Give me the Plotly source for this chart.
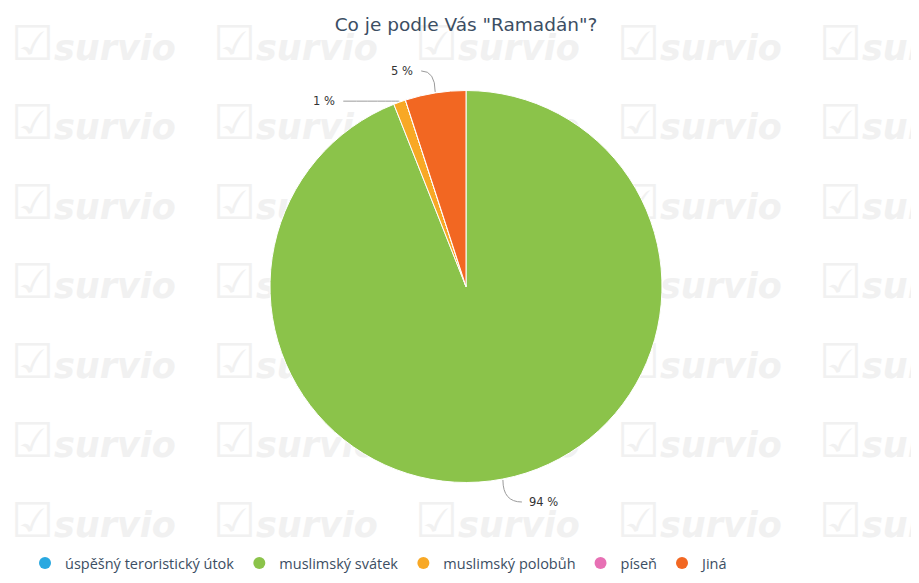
import math
import plotly.graph_objects as go

# ---- data ----
categories = ["úspěšný teroristický útok", "muslimský svátek", "muslimský polobůh", "píseň", "Jiná"]
values = [0, 94, 1, 0, 5]
colors = ["#29a8e0", "#8bc34a", "#f8a825", "#e770b4", "#f26722"]
title_text = 'Co je podle Vás "Ramadán"?'

# ---- layout geometry (pixels) ----
W, H = 919, 583
OFF = 8  # page body margin compensation
CX, CY, R = 466 - OFF, 286.5 - OFF, 196
# label text offsets from slice edge point (style only)
label_offsets = {1: (24, 22), 2: (-62, 0), 4: (-20, -21)}

fig = go.Figure()

# watermark (decoration) drawn beneath the pie on hidden axes
wm_x, wm_y, wm_t = [], [], []
for r in range(7):
    for c in range(5):
        wm_x.append(3 + c * 202)
        wm_y.append(43 + r * 79.5)
        wm_t.append("<span style='font-size:48px'>☑</span><b><i>survio</i></b>")
fig.add_trace(go.Scatter(
    x=wm_x, y=wm_y, text=wm_t, mode="text", textposition="middle right",
    textfont=dict(family="DejaVu Sans", size=35, color="#f1f1f1"),
    hoverinfo="skip", showlegend=False))

# pie
fig.add_trace(go.Pie(
    labels=categories, values=values, sort=False, direction="clockwise",
    rotation=0, marker=dict(colors=colors, line=dict(color="#ffffff", width=1)),
    textinfo="none", showlegend=False,
    domain=dict(x=[(CX - R) / W, (CX + R) / W], y=[1 - (CY + R) / H, 1 - (CY - R) / H]),
))

# legend entries with circle markers
for cat, col in zip(categories, colors):
    fig.add_trace(go.Scatter(x=[None], y=[None], mode="markers", name=cat,
                             marker=dict(color=col, size=12, symbol="circle")))

# outside labels with leader lines, computed from data
total = sum(values)
cum = 0
shapes, annotations = [], []
for i, v in enumerate(values):
    if v > 0:
        a = math.radians((cum + v / 2) / total * 360)
        ex = CX + (R + 1) * math.sin(a)
        ey = CY - (R + 1) * math.cos(a)
        dx, dy = label_offsets[i]
        tx, ty = ex + dx, ey + dy
        right = dx > 0
        sx = tx - 5 if right else tx + 6
        path = f"M {sx},{ty} Q {ex},{ty} {ex},{ey}"
        shapes.append(dict(type="path", path=path, xref="x", yref="y",
                           line=dict(color="#9a9a9a", width=1)))
        annotations.append(dict(x=tx, y=ty, xref="x", yref="y", text=f"{v} %",
                                showarrow=False, xanchor="left" if right else "right",
                                yanchor="middle",
                                font=dict(family="DejaVu Sans", size=11.5, color="#333333")))
    cum += v

fig.update_layout(
    width=W, height=H,
    margin=dict(l=0, r=0, t=0, b=0),
    paper_bgcolor="#ffffff", plot_bgcolor="rgba(0,0,0,0)",
    xaxis=dict(range=[0, W], visible=False, fixedrange=True),
    yaxis=dict(range=[H, 0], visible=False, fixedrange=True),
    title=dict(text=title_text, x=(466 - OFF) / W, xanchor="center", y=1 - (25 - OFF) / H,
               yanchor="middle", yref="container",
               font=dict(family="DejaVu Sans", size=18.5, color="#3c4e63")),
    legend=dict(orientation="h", x=17 / W, xanchor="left", y=1 - (563 - OFF) / H, yanchor="middle",
                font=dict(family="Open Sans", size=14.5, color="#3c4e63"),
                bgcolor="rgba(0,0,0,0)", itemclick=False, itemdoubleclick=False),
    shapes=shapes, annotations=annotations,
    showlegend=True,
)

fig.write_html("out.html")
